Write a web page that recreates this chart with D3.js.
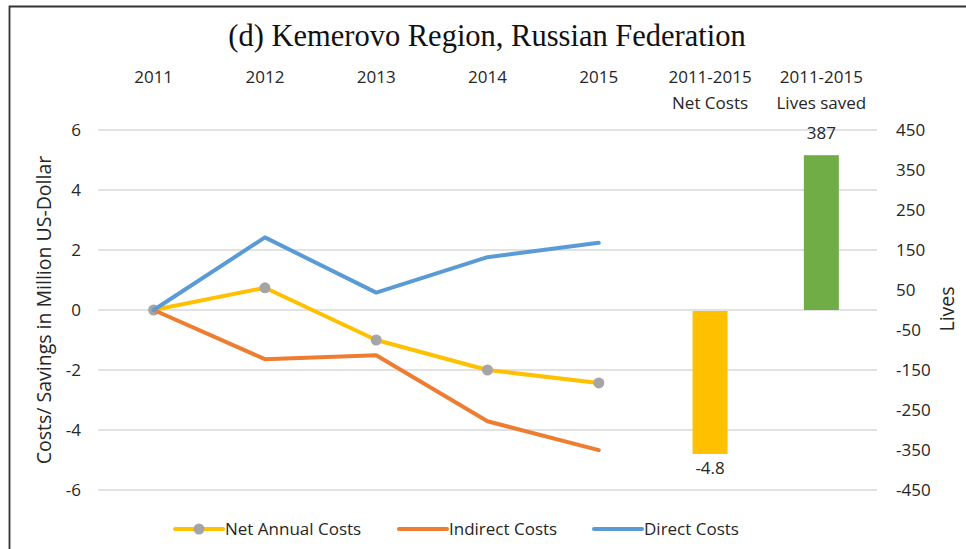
<!DOCTYPE html>
<html>
<head>
<meta charset="utf-8">
<script src="https://cdn.jsdelivr.net/npm/d3@7"></script>
<style>
  html, body { margin: 0; padding: 0; background: #fff; }
  svg { display: block; }
</style>
</head>
<body>
<svg id="chart" width="966" height="549"></svg>
<script>
// ---- data ----
const categories = ["2011", "2012", "2013", "2014", "2015", "2011-2015|Net Costs", "2011-2015|Lives saved"];
const years = ["2011", "2012", "2013", "2014", "2015"];
const netAnnualCosts = [0, 0.74, -1.0, -2.0, -2.43];
const indirectCosts = [0, -1.64, -1.51, -3.71, -4.67];
const directCosts = [0, 2.42, 0.58, 1.76, 2.24];
const netCostsTotal = -4.8;
const livesSaved = 387;
const leftTicks = [6, 4, 2, 0, -2, -4, -6];
const rightTicks = [450, 350, 250, 150, 50, -50, -150, -250, -350, -450];
const title = "(d) Kemerovo Region, Russian Federation";
const leftTitle = "Costs/ Savings in Million US-Dollar";
const rightTitle = "Lives";
const seriesNames = ["Net Annual Costs", "Indirect Costs", "Direct Costs"];

// ---- layout ----
const svg = d3.select("#chart");
const font = "'Open Sans', 'Noto Sans', sans-serif";
const textColor = "#262626";
const fs = 17;
const plot = { left: 98, right: 877, top: 130, bottom: 490 };

const x = d3.scaleBand().domain(categories).range([plot.left, plot.right]).paddingInner(0).paddingOuter(0);
const yL = d3.scaleLinear().domain([-6, 6]).range([plot.bottom, plot.top]);
const yR = d3.scaleLinear().domain([-450, 450]).range([plot.bottom, plot.top]);
const cx = c => x(c) + x.bandwidth() / 2;
const fmt = d => String(d);

// border
svg.append("path")
  .attr("d", `M9.5,549 L9.5,6.5 L966,6.5`)
  .attr("fill", "none").attr("stroke", "#333").attr("stroke-width", 1.8);

// title
svg.append("text").attr("x", 487).attr("y", 46)
  .attr("text-anchor", "middle")
  .attr("font-family", "'Liberation Serif', 'DejaVu Serif', serif")
  .attr("font-size", 30.5).attr("fill", "#111").text(title);

// gridlines
svg.append("g").selectAll("line").data(leftTicks).join("line")
  .attr("x1", plot.left).attr("x2", plot.right)
  .attr("y1", d => yL(d)).attr("y2", d => yL(d))
  .attr("stroke", "#d9d9d9").attr("stroke-width", 1.5);

// left axis (labels only)
const leftAxis = d3.axisLeft(yL).tickValues(leftTicks).tickSize(0).tickPadding(0).tickFormat(fmt);
const gl = svg.append("g").attr("transform", `translate(81,0)`).call(leftAxis);
gl.select(".domain").remove();
gl.selectAll("text").attr("font-family", font).attr("font-size", fs).attr("fill", textColor).attr("dy", "0.35em");

// right axis
const rightAxis = d3.axisRight(yR).tickValues(rightTicks).tickSize(0).tickPadding(0).tickFormat(fmt);
const gr = svg.append("g").attr("transform", `translate(896,0)`).call(rightAxis);
gr.select(".domain").remove();
gr.selectAll("text").attr("font-family", font).attr("font-size", fs).attr("fill", textColor).attr("dy", "0.35em");

// axis titles
svg.append("text").attr("transform", `translate(51,310) rotate(-90)`)
  .attr("text-anchor", "middle").attr("font-family", font).attr("font-size", 19.5)
  .attr("fill", textColor).text(leftTitle);
svg.append("text").attr("transform", `translate(954,309) rotate(-90)`)
  .attr("text-anchor", "middle").attr("font-family", font).attr("font-size", 19.5)
  .attr("fill", textColor).text(rightTitle);

// category labels at top
const catG = svg.append("g");
categories.forEach(c => {
  const parts = c.split("|");
  parts.forEach((p, i) => {
    catG.append("text").attr("x", cx(c)).attr("y", 83 + i * 26)
      .attr("text-anchor", "middle").attr("font-family", font).attr("font-size", fs)
      .attr("fill", textColor).text(p);
  });
});

// bars
const barW = 35;
const netCat = categories[5], livesCat = categories[6];
svg.append("rect")
  .attr("x", cx(netCat) - barW / 2).attr("width", barW)
  .attr("y", yL(0) + 1).attr("height", yL(netCostsTotal) - yL(0) - 1)
  .attr("fill", "#FFC000");
svg.append("rect")
  .attr("x", cx(livesCat) - barW / 2).attr("width", barW)
  .attr("y", yR(livesSaved)).attr("height", yR(0) - yR(livesSaved))
  .attr("fill", "#70AD47");
svg.append("text").attr("x", cx(netCat)).attr("y", yL(netCostsTotal) + 20)
  .attr("text-anchor", "middle").attr("font-family", font).attr("font-size", fs)
  .attr("fill", textColor).text(String(netCostsTotal));
svg.append("text").attr("x", cx(livesCat)).attr("y", yR(livesSaved) - 16)
  .attr("text-anchor", "middle").attr("font-family", font).attr("font-size", fs)
  .attr("fill", textColor).text(String(livesSaved));

// lines
const line = d3.line().x((d, i) => cx(years[i])).y(d => yL(d));
const seriesData = [
  { name: seriesNames[0], vals: netAnnualCosts, color: "#FFC000", marker: true },
  { name: seriesNames[1], vals: indirectCosts, color: "#ED7D31", marker: false },
  { name: seriesNames[2], vals: directCosts, color: "#5B9BD5", marker: false }
];
seriesData.forEach(s => {
  svg.append("path").datum(s.vals).attr("d", line)
    .attr("fill", "none").attr("stroke", s.color).attr("stroke-width", 4)
    .attr("stroke-linejoin", "round").attr("stroke-linecap", "round");
  if (s.marker) {
    svg.append("g").selectAll("circle").data(s.vals).join("circle")
      .attr("cx", (d, i) => cx(years[i])).attr("cy", d => yL(d)).attr("r", 5.5)
      .attr("fill", "#A5A5A5");
  }
});

// legend
const legendItems = [
  { name: seriesNames[0], color: "#FFC000", marker: true, x0: 175 },
  { name: seriesNames[1], color: "#ED7D31", marker: false, x0: 399 },
  { name: seriesNames[2], color: "#5B9BD5", marker: false, x0: 594 }
];
const ly = 529;
legendItems.forEach(it => {
  svg.append("line").attr("x1", it.x0).attr("x2", it.x0 + 48).attr("y1", ly).attr("y2", ly)
    .attr("stroke", it.color).attr("stroke-width", 4).attr("stroke-linecap", "round");
  if (it.marker) {
    svg.append("circle").attr("cx", it.x0 + 24).attr("cy", ly).attr("r", 5.5).attr("fill", "#A5A5A5");
  }
  svg.append("text").attr("x", it.x0 + 50).attr("y", ly).attr("dy", "0.35em")
    .attr("font-family", font).attr("font-size", fs).attr("fill", textColor).text(it.name);
});
</script>
</body>
</html>
